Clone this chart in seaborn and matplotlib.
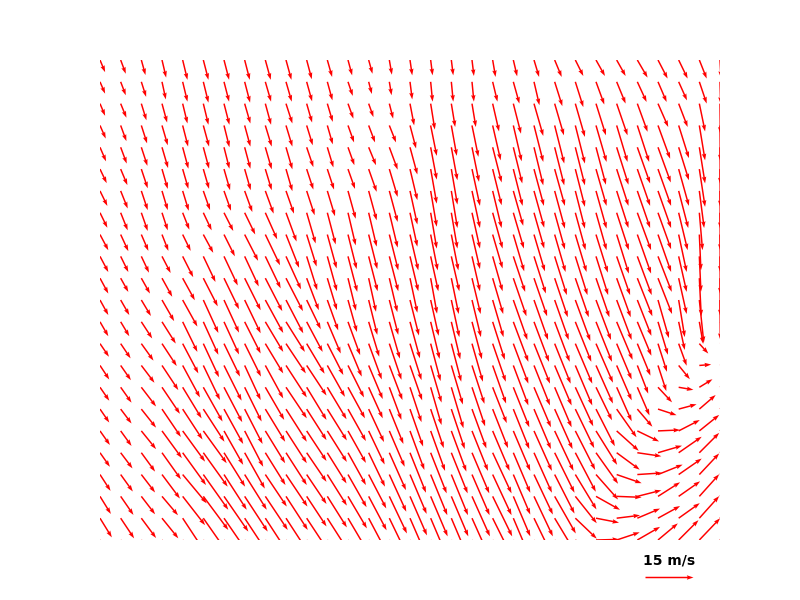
import numpy as np
import matplotlib
matplotlib.use('Agg')
import matplotlib.pyplot as plt
import seaborn as sns

# wind field on a 31 x 23 grid, rows listed from top (north) to bottom, m/s
U_ROWS = [
    [1.6, 1.6, 1.3, 1.3, 1.5, 1.6, 1.6, 1.6, 1.7, 1.7, 1.6, 1.5, 1.3, 1.2, 0.8, 0.7, 0.6, 0.6, 0.6, 0.9, 1.2, 1.6, 2.2, 2.5, 2.8, 2.8, 3.2, 3.0, 2.8, 2.3, 0.3],
    [1.6, 1.6, 1.5, 1.2, 1.5, 1.6, 1.6, 1.7, 1.8, 1.8, 1.7, 1.6, 1.5, 1.0, 0.7, 0.7, 0.6, 0.6, 0.6, 1.5, 1.9, 1.7, 2.4, 2.5, 2.6, 2.8, 2.9, 2.7, 2.6, 2.3, 0.2],
    [1.6, 1.8, 1.6, 1.6, 1.5, 1.6, 1.7, 1.8, 1.8, 2.0, 1.7, 1.7, 1.7, 1.5, 1.2, 1.3, 1.3, 1.2, 1.2, 2.0, 2.4, 2.9, 2.9, 3.0, 3.1, 3.4, 3.2, 3.2, 2.8, 1.8, 0.1],
    [1.8, 1.8, 1.8, 1.8, 1.7, 1.8, 1.7, 1.8, 2.0, 2.0, 1.9, 1.7, 1.9, 2.0, 2.1, 1.9, 1.9, 1.7, 2.0, 2.5, 2.6, 2.9, 3.0, 3.0, 3.3, 3.4, 3.7, 3.8, 3.2, 1.8, 0.1],
    [1.9, 1.9, 1.9, 1.9, 1.8, 1.8, 1.7, 1.8, 2.0, 2.0, 2.1, 1.9, 2.0, 2.3, 2.6, 2.3, 1.9, 1.9, 2.2, 2.8, 2.8, 2.9, 3.0, 3.0, 3.1, 3.7, 4.0, 4.0, 3.2, 1.8, 0.1],
    [2.1, 2.1, 2.0, 1.8, 1.8, 1.8, 1.9, 1.9, 2.0, 2.0, 2.1, 2.1, 2.2, 2.5, 2.6, 2.3, 1.9, 1.9, 2.5, 2.8, 2.9, 3.1, 3.2, 3.0, 3.3, 3.7, 4.0, 4.1, 3.2, 1.8, 0.1],
    [2.3, 2.2, 2.0, 1.8, 1.9, 2.1, 2.2, 2.4, 2.6, 2.5, 2.5, 2.4, 2.4, 2.5, 2.6, 2.3, 1.9, 1.9, 2.5, 2.8, 3.1, 3.2, 3.2, 3.0, 3.3, 3.7, 4.0, 4.1, 3.0, 1.5, 0.1],
    [2.3, 2.2, 2.0, 1.8, 2.1, 2.6, 2.9, 3.3, 3.7, 3.3, 2.8, 2.6, 2.4, 2.5, 2.6, 2.3, 1.9, 1.9, 2.5, 3.1, 3.3, 3.2, 3.2, 3.2, 3.3, 3.8, 4.3, 4.1, 2.8, 1.0, 0.1],
    [2.6, 2.4, 2.2, 2.0, 2.5, 3.1, 3.4, 4.2, 4.6, 4.1, 3.1, 2.9, 2.7, 2.7, 2.8, 2.6, 2.2, 2.2, 2.5, 3.1, 3.4, 3.4, 3.4, 3.5, 3.7, 3.8, 4.3, 4.1, 2.5, 0.5, 0.1],
    [2.6, 2.4, 2.4, 2.7, 3.3, 3.8, 4.3, 4.4, 4.8, 4.7, 3.3, 3.0, 2.9, 2.8, 2.8, 2.6, 2.4, 2.5, 2.5, 3.1, 3.7, 3.7, 3.8, 3.8, 3.8, 4.2, 4.5, 4.3, 2.5, 0.5, 0.1],
    [2.6, 2.4, 2.7, 3.2, 3.8, 4.5, 4.7, 5.0, 5.3, 5.3, 3.8, 3.0, 2.5, 2.3, 2.5, 2.3, 2.0, 2.3, 2.7, 3.3, 4.1, 4.1, 4.1, 4.2, 4.2, 4.4, 4.7, 4.4, 2.5, 0.6, 0.1],
    [2.6, 2.7, 3.0, 3.8, 4.6, 4.7, 4.7, 5.0, 5.6, 5.4, 4.4, 3.4, 2.8, 2.7, 2.8, 2.8, 2.5, 2.5, 2.8, 3.4, 4.4, 4.4, 4.4, 4.7, 4.7, 4.7, 4.4, 3.4, 1.9, 1.4, 0.1],
    [2.6, 2.7, 3.4, 4.3, 4.6, 4.7, 4.7, 5.0, 5.6, 5.9, 5.0, 4.2, 3.8, 3.3, 3.3, 3.1, 2.8, 2.8, 3.1, 3.8, 4.7, 4.7, 4.7, 5.0, 5.0, 5.0, 4.4, 3.1, 1.9, 1.2, 4.7],
    [2.8, 3.1, 3.8, 4.6, 4.9, 4.9, 5.0, 5.1, 5.6, 6.2, 5.6, 5.0, 4.3, 4.1, 3.8, 3.6, 3.1, 3.1, 3.4, 4.1, 4.7, 5.0, 5.0, 5.3, 5.3, 4.7, 4.1, 2.8, 2.5, 2.8, 4.7],
    [2.9, 3.2, 4.1, 5.1, 5.4, 5.2, 5.5, 5.0, 5.6, 6.5, 6.2, 5.5, 5.0, 4.4, 4.1, 3.8, 3.4, 3.6, 3.9, 4.2, 4.7, 5.0, 5.3, 5.3, 5.3, 4.7, 3.4, 2.6, 3.5, 3.7, 5.0],
    [2.9, 3.4, 4.6, 5.6, 5.9, 6.0, 5.7, 5.3, 5.9, 6.5, 6.2, 6.0, 5.3, 4.4, 3.8, 3.6, 3.4, 3.8, 4.1, 4.4, 5.0, 5.3, 5.3, 5.6, 5.0, 4.7, 3.8, 4.4, 4.6, 4.1, 5.0],
    [2.9, 3.4, 4.6, 5.9, 6.2, 6.6, 6.0, 5.6, 6.2, 6.5, 6.2, 6.1, 5.6, 4.8, 4.4, 4.1, 4.1, 4.2, 4.5, 4.8, 5.0, 5.3, 5.6, 5.9, 5.9, 6.2, 4.7, 5.8, 5.6, 5.1, 5.3],
    [3.1, 3.4, 4.6, 6.2, 7.0, 7.3, 6.0, 5.8, 6.2, 6.5, 6.2, 6.1, 5.6, 5.0, 4.8, 4.5, 4.5, 4.7, 5.0, 5.3, 5.3, 5.6, 5.9, 6.2, 6.6, 6.9, 6.8, 6.9, 6.6, 6.2, 5.9],
    [3.1, 3.7, 4.3, 5.9, 7.3, 7.6, 6.6, 6.3, 6.3, 6.5, 6.2, 6.0, 5.6, 5.1, 5.2, 5.0, 5.0, 5.1, 5.4, 5.9, 5.3, 5.6, 6.2, 6.4, 6.9, 7.2, 7.5, 7.5, 7.2, 6.2, 6.2],
    [3.3, 3.8, 4.3, 5.6, 7.5, 7.8, 7.1, 6.9, 6.7, 6.7, 6.2, 6.1, 5.8, 5.5, 5.3, 5.2, 5.2, 5.2, 5.5, 5.9, 5.3, 5.9, 6.2, 6.6, 6.9, 7.8, 7.7, 7.7, 7.2, 6.2, 6.2],
    [3.4, 4.0, 4.3, 5.0, 7.0, 7.8, 7.6, 7.2, 7.0, 6.8, 6.2, 6.1, 5.9, 5.6, 5.5, 5.3, 5.3, 5.3, 5.6, 6.1, 5.3, 5.9, 6.6, 6.7, 7.5, 7.8, 7.5, 6.9, 6.7, 6.2, 6.2],
    [3.7, 4.2, 4.6, 5.1, 6.2, 7.2, 7.5, 7.2, 6.9, 6.9, 6.2, 6.2, 5.9, 5.6, 5.6, 5.3, 5.3, 5.3, 5.6, 6.2, 5.3, 5.9, 6.2, 6.7, 7.2, 7.3, 7.1, 6.9, 6.6, 6.2, 6.2],
    [3.8, 4.2, 4.7, 5.2, 6.2, 7.2, 7.5, 7.2, 6.9, 6.9, 6.2, 6.2, 5.9, 5.6, 5.6, 5.3, 5.3, 5.3, 5.6, 6.2, 5.3, 5.9, 6.2, 6.7, 7.2, 7.2, 7.1, 6.2, 6.2, 6.5, 6.2],
]

V_ROWS = [
    [-3.8, -4.3, -4.7, -5.5, -6.2, -6.2, -6.2, -6.2, -6.2, -6.2, -6.0, -5.3, -4.8, -4.3, -4.6, -4.8, -4.8, -4.8, -5.0, -5.3, -5.1, -5.3, -5.3, -5.0, -5.0, -5.0, -5.5, -5.8, -5.8, -5.8, -5.6],
    [-3.7, -4.2, -4.7, -5.5, -6.2, -6.5, -6.2, -6.5, -6.2, -6.2, -6.1, -5.8, -4.4, -3.8, -4.2, -5.5, -6.2, -6.2, -6.2, -6.2, -6.8, -7.3, -7.6, -7.9, -7.1, -6.8, -6.3, -6.3, -5.8, -6.8, -6.9],
    [-3.8, -4.4, -5.2, -5.9, -6.2, -6.6, -6.6, -6.2, -6.6, -6.2, -5.9, -5.7, -4.7, -4.2, -4.7, -6.8, -8.1, -7.3, -7.3, -8.7, -9.4, -10.1, -9.9, -10.4, -9.9, -9.9, -8.8, -7.3, -7.3, -8.7, -9.4],
    [-4.1, -4.9, -5.6, -6.2, -6.6, -6.6, -6.8, -6.6, -6.6, -6.6, -6.2, -5.9, -5.3, -5.3, -5.3, -7.2, -9.5, -9.5, -9.8, -10.9, -11.2, -11.4, -11.9, -11.9, -11.4, -11.4, -11.4, -10.4, -10.2, -10.9, -11.2],
    [-4.4, -5.1, -5.8, -6.5, -6.7, -6.7, -6.7, -6.7, -6.9, -6.9, -6.2, -6.3, -5.6, -5.6, -7.0, -8.5, -10.1, -10.3, -10.8, -11.0, -11.3, -11.9, -11.9, -11.9, -11.7, -11.7, -11.3, -11.0, -10.3, -11.3, -11.6],
    [-4.4, -5.0, -6.0, -6.2, -6.2, -6.2, -6.6, -6.6, -6.6, -6.9, -6.4, -6.4, -6.2, -7.1, -8.7, -9.7, -10.8, -11.1, -11.5, -11.3, -11.5, -11.5, -11.5, -11.8, -11.5, -11.5, -11.5, -11.5, -11.5, -11.8, -11.9],
    [-4.7, -5.5, -6.0, -6.0, -6.2, -6.0, -6.2, -6.6, -7.1, -7.1, -7.6, -7.9, -8.7, -9.2, -9.7, -10.5, -11.2, -11.6, -11.6, -11.6, -10.9, -11.5, -11.8, -11.8, -11.8, -11.6, -11.6, -11.6, -11.6, -11.6, -11.9],
    [-4.7, -5.5, -5.7, -5.5, -5.3, -5.5, -5.7, -6.8, -8.3, -9.0, -9.6, -9.9, -10.2, -10.6, -10.9, -10.6, -11.2, -11.2, -11.2, -11.2, -11.2, -11.2, -11.5, -11.7, -11.7, -11.7, -11.7, -11.4, -11.7, -11.7, -11.9],
    [-4.9, -5.2, -5.1, -5.1, -5.1, -5.7, -6.8, -8.2, -9.6, -10.4, -10.0, -10.6, -10.8, -10.8, -11.2, -11.2, -11.2, -11.2, -10.8, -10.6, -11.5, -11.5, -11.7, -11.7, -11.9, -12.2, -12.2, -11.7, -11.7, -11.2, -11.9],
    [-4.9, -4.9, -5.1, -5.2, -6.5, -8.0, -9.1, -9.4, -10.0, -10.3, -10.6, -10.9, -11.1, -10.9, -10.9, -10.9, -10.9, -10.9, -10.9, -10.9, -11.1, -11.6, -12.1, -12.1, -12.1, -12.1, -12.1, -11.1, -11.1, -11.1, -11.9],
    [-4.8, -4.3, -4.8, -5.8, -6.9, -8.8, -9.7, -10.0, -10.3, -10.3, -10.0, -10.0, -10.2, -10.5, -10.6, -10.8, -11.1, -11.2, -11.2, -11.2, -11.9, -11.9, -12.2, -12.2, -12.2, -12.2, -11.9, -11.2, -11.2, -11.9, -11.9],
    [-4.7, -4.7, -5.0, -6.6, -8.3, -10.3, -10.2, -10.4, -10.3, -10.4, -9.1, -9.5, -10.0, -10.9, -10.9, -11.1, -11.2, -11.6, -11.6, -11.6, -12.5, -12.5, -12.5, -12.8, -12.5, -12.5, -11.2, -11.9, -11.6, -13.4, -12.5],
    [-4.5, -4.5, -5.2, -6.8, -9.4, -10.3, -10.2, -9.9, -9.4, -9.4, -9.4, -9.9, -10.4, -10.9, -11.5, -11.4, -11.6, -11.7, -11.7, -11.9, -12.5, -12.5, -12.5, -12.5, -12.5, -11.9, -10.6, -10.3, -8.8, -6.9, -2.0],
    [-4.1, -4.6, -5.3, -7.0, -9.3, -10.5, -10.3, -10.3, -9.3, -9.3, -9.4, -9.8, -10.3, -11.2, -11.3, -11.4, -11.7, -11.9, -11.9, -11.9, -12.5, -12.5, -12.5, -12.5, -12.2, -11.2, -10.0, -8.8, -6.9, -3.1, 0.9],
    [-4.4, -4.6, -5.4, -7.7, -10.0, -10.8, -11.0, -10.8, -10.3, -10.0, -9.4, -9.8, -10.0, -10.5, -10.8, -10.9, -11.6, -12.2, -12.0, -11.9, -12.5, -12.5, -12.5, -12.5, -11.9, -10.9, -8.8, -8.0, -4.3, 0.3, 1.9],
    [-4.2, -4.8, -6.0, -8.3, -9.7, -10.7, -10.9, -10.7, -10.2, -9.7, -10.2, -10.0, -9.7, -9.7, -10.2, -10.9, -11.8, -12.8, -12.2, -11.2, -12.5, -12.5, -12.5, -12.2, -10.3, -10.6, -8.8, -4.7, -0.8, 2.5, 3.1],
    [-4.2, -4.5, -5.8, -8.7, -9.5, -10.2, -10.9, -10.9, -10.2, -10.2, -9.7, -9.8, -10.0, -10.3, -10.9, -11.7, -12.2, -12.5, -12.3, -12.2, -12.5, -12.5, -12.5, -12.2, -11.6, -8.8, -5.5, -1.9, 1.5, 4.4, 4.7],
    [-4.4, -4.7, -5.7, -8.5, -9.6, -10.1, -10.6, -11.2, -10.1, -10.1, -9.4, -9.7, -10.0, -10.5, -11.2, -12.2, -12.5, -12.7, -12.5, -12.5, -12.5, -12.5, -12.5, -12.2, -10.6, -6.2, -3.3, 0.3, 3.4, 5.0, 5.9],
    [-4.4, -4.9, -5.9, -8.3, -10.1, -10.6, -10.6, -11.2, -10.1, -10.1, -9.1, -9.6, -10.1, -10.6, -11.7, -12.5, -12.7, -12.7, -12.7, -12.7, -12.5, -12.5, -12.5, -12.2, -9.7, -5.3, -1.1, 2.2, 5.0, 6.2, 6.2],
    [-5.1, -5.3, -5.6, -7.5, -9.0, -11.0, -11.0, -11.0, -10.0, -10.0, -9.2, -9.7, -10.2, -10.6, -11.6, -12.3, -12.7, -12.7, -12.7, -12.7, -12.5, -12.5, -12.2, -10.9, -7.8, -2.7, 0.5, 3.1, 5.0, 6.6, 6.6],
    [-5.5, -5.8, -5.6, -5.9, -9.0, -10.5, -11.0, -11.0, -10.5, -10.5, -9.4, -9.7, -10.0, -10.6, -11.6, -12.2, -12.5, -12.5, -12.5, -12.5, -12.5, -12.5, -11.6, -8.4, -4.2, -0.3, 1.9, 4.4, 4.7, 6.9, 6.9],
    [-6.0, -6.3, -6.2, -6.3, -9.4, -10.3, -10.9, -10.9, -10.6, -10.6, -9.4, -9.7, -10.0, -10.6, -11.6, -12.2, -12.5, -12.5, -12.5, -12.5, -12.5, -12.2, -10.3, -6.4, -1.4, 0.9, 3.0, 3.8, 4.7, 6.9, 6.9],
    [-6.2, -6.6, -6.2, -6.6, -9.4, -10.3, -10.9, -10.9, -10.6, -10.6, -9.4, -9.7, -10.0, -10.6, -11.6, -12.2, -12.5, -12.5, -12.5, -12.5, -12.5, -12.2, -9.4, -4.0, 0.2, 2.4, 4.1, 5.2, 6.2, 6.8, 6.9],
]

# grid coordinates (columns west->east, rows north->south)
x_pts = np.arange(31)
y_pts = np.arange(22, -1, -1)

KEY_SPEED = 15
KEY_LABEL = '15 m/s'

sns.set_style('white')

u = np.array(U_ROWS)
v = np.array(V_ROWS)
X, Y = np.meshgrid(x_pts, y_pts)

fig = plt.figure(figsize=(8, 6), dpi=100)
ax = fig.add_axes([0.125, 0.1, 0.775, 0.8])

q = ax.quiver(X, Y, u, v, color='red', pivot='tail',
              scale=31.25, scale_units='inches',
              width=0.0024, headwidth=3, headlength=4.5, headaxislength=4)

ax.set_xlim(0, 30)
ax.set_ylim(0, 22)
ax.set_axis_off()

ax.quiverkey(q, 0.836, 0.038, KEY_SPEED, KEY_LABEL, labelpos='N',
             coordinates='figure', color='red', labelcolor='black',
             fontproperties={'weight': 'bold', 'size': 10})

fig.savefig('out.png', dpi=100)
